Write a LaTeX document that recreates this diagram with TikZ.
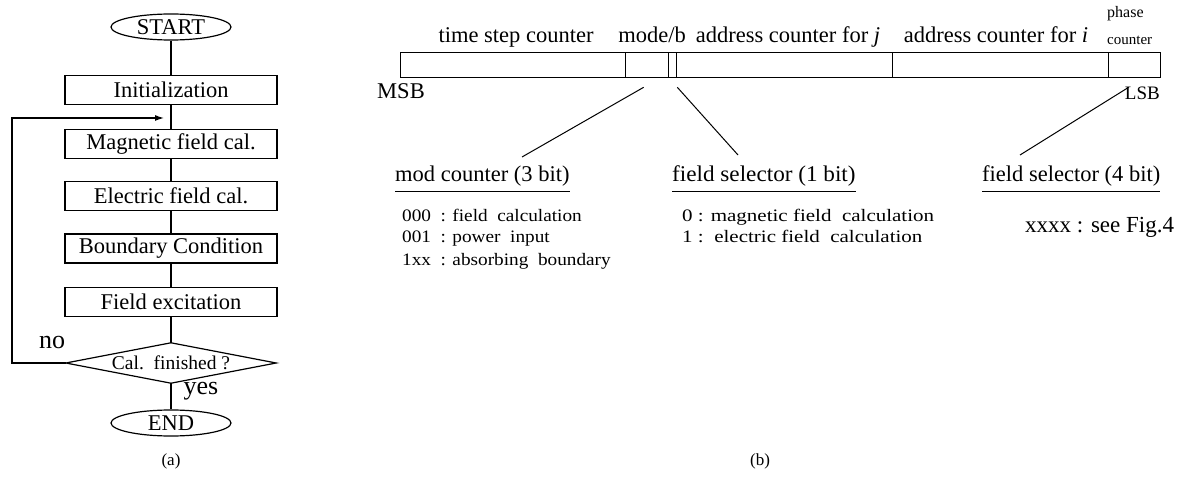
\documentclass[tikz,border=0pt]{standalone}
\usepackage{fontspec}
\usepackage{graphicx}
\setmainfont{Liberation Serif}
\usetikzlibrary{arrows.meta,calc,shapes.geometric}
\begin{document}
\begin{tikzpicture}[x=1pt,y=-1pt,
  big/.style={font=\fontsize{22.5}{24}\selectfont},
  proc/.style={draw, line width=1.2pt, minimum width=212pt, minimum height=29pt, inner sep=0pt, big},
  term/.style={draw, ellipse, line width=1.2pt, minimum width=120pt, minimum height=26pt, inner sep=0pt, big},
  conn/.style={line width=1.2pt},
  lead/.style={line width=1pt},
  fld/.style={draw, line width=1.3pt, minimum height=25pt, inner sep=0pt, anchor=north west},
  lbl/.style={inner sep=0pt, anchor=base, big},
  head/.style={inner sep=0pt, anchor=base west, big},
  item/.style={inner sep=0pt, anchor=base west, font=\fontsize{17.5}{20}\selectfont},
  captext/.style={inner sep=0pt, font=\fontsize{17}{20}\selectfont},
]
\useasboundingbox (0,0) rectangle (1191,481);

% ---------- (a) flowchart ----------
\node[term] (start) at (171,27) {START};
\node[proc] (init) at (171,90) {Initialization};
\node[proc] (mag) at (171,144) {Magnetic field cal.};
\node[proc] (elec) at (171,196) {Electric field cal.};
\node[proc] (bound) at (171,248.5) {Boundary Condition};
\node[proc] (fexc) at (171,302) {Field excitation};
\node[minimum width=210pt, minimum height=40pt, inner sep=0pt, font=\fontsize{19.5}{22}\selectfont] (dia) at (171,363) {Cal.\ \ finished ?};
\draw[conn] (dia.west) -- (dia.north) -- (dia.east) -- (dia.south) -- cycle;
\node[term] (end) at (171,423) {END};

\draw[conn] (start) -- (init);
\draw[conn] (init) -- (mag);
\draw[conn] (mag) -- (elec);
\draw[conn] (elec) -- (bound);
\draw[conn] (bound) -- (fexc);
\draw[conn] (fexc) -- (dia.north);
\draw[conn] (dia.south) -- (end);

\coordinate (lc) at (12,363);
\coordinate (back) at (164,118);
\draw[conn, -{Latex[length=9pt,width=6pt]}] (dia.west) -- (lc) |- (back);

\node[inner sep=0pt, font=\fontsize{26}{28}\selectfont] (no) at (52,342) {no};
\node[inner sep=0pt, font=\fontsize{26}{28}\selectfont] (yes) at (201,391) {yes};
\node[captext] (capa) at (171,461) {(a)};

% ---------- (b) bit field ----------
\node[fld, minimum width=225pt] (tsc) at (400,52) {};
\node[fld, minimum width=43pt] (mode) at (625,52) {};
\node[fld, minimum width=8pt] (eb) at (668,52) {};
\node[fld, minimum width=216pt] (addrj) at (676,52) {};
\node[fld, minimum width=216pt] (addri) at (892,52) {};
\node[fld, minimum width=52pt] (ph) at (1108,52) {};

\node[lbl] (ltsc) at (516,43) {time step counter};
\node[lbl] (lmode) at (652,43) {mode/b};
\node[lbl] (laj) at (788,43) {address counter for\ \textit{j}};
\node[lbl] (lai) at (996,43) {address counter for \textit{i}};
\node[inner sep=0pt, anchor=base west, font=\fontsize{16}{17}\selectfont] (lph1) at (1107,18) {phase};
\node[inner sep=0pt, anchor=base west, font=\fontsize{15}{17}\selectfont] (lph2) at (1107,45) {counter};

\node[lbl] (msb) at (401,99) {MSB};
\node[inner sep=0pt, anchor=base east, font=\fontsize{19}{21}\selectfont] (lsb) at (1160,100) {LSB};

\node[head] (h1) at (395,182) {mod counter (3 bit)};
\node[head] (h2) at (672,182) {\scalebox{1.03}[1]{field selector (1 bit)}};
\node[head] (h3) at (982,182) {field selector (4 bit)};
\draw[lead] ([yshift=-10pt]h1.base west) -- ([yshift=-10pt]h1.base east);
\draw[lead] ([yshift=-10pt]h2.base west) -- ([yshift=-10pt]h2.base east);
\draw[lead] ([yshift=-10pt]h3.base west) -- ([yshift=-10pt]h3.base east);

\coordinate (e1) at (522,157);
\coordinate (e2) at (738,155);
\coordinate (e3) at (1020,155);
\draw[lead] ([xshift=-3.5pt,yshift=-9pt]mode.south) -- (e1);
\draw[lead] ([yshift=-9pt]eb.south east) -- (e2);
\draw[lead] ([xshift=-6pt,yshift=-9pt]ph.south) -- (e3);

\node[item] (i1) at (402,222) {\scalebox{1.1}[1]{000\ \ : field\ \ calculation}};
\node[item] (i2) at (402,243) {\scalebox{1.1}[1]{001\ \ : power\ \ input}};
\node[item] (i3) at (402,265) {\scalebox{1.1}[1]{1xx\ \ : absorbing\ \ boundary}};
\node[item] (j1) at (682,222) {\scalebox{1.2}[1]{0 : magnetic field\ \ calculation}};
\node[item] (j2) at (682,243) {\scalebox{1.2}[1]{1 :\ \ electric field\ \ calculation}};
\node[inner sep=0pt, anchor=base west, font=\fontsize{23}{25}\selectfont] (k1) at (1025,233) {xxxx : see Fig.4};

\node[captext] (capb) at (760,461) {(b)};
\end{tikzpicture}
\end{document}
